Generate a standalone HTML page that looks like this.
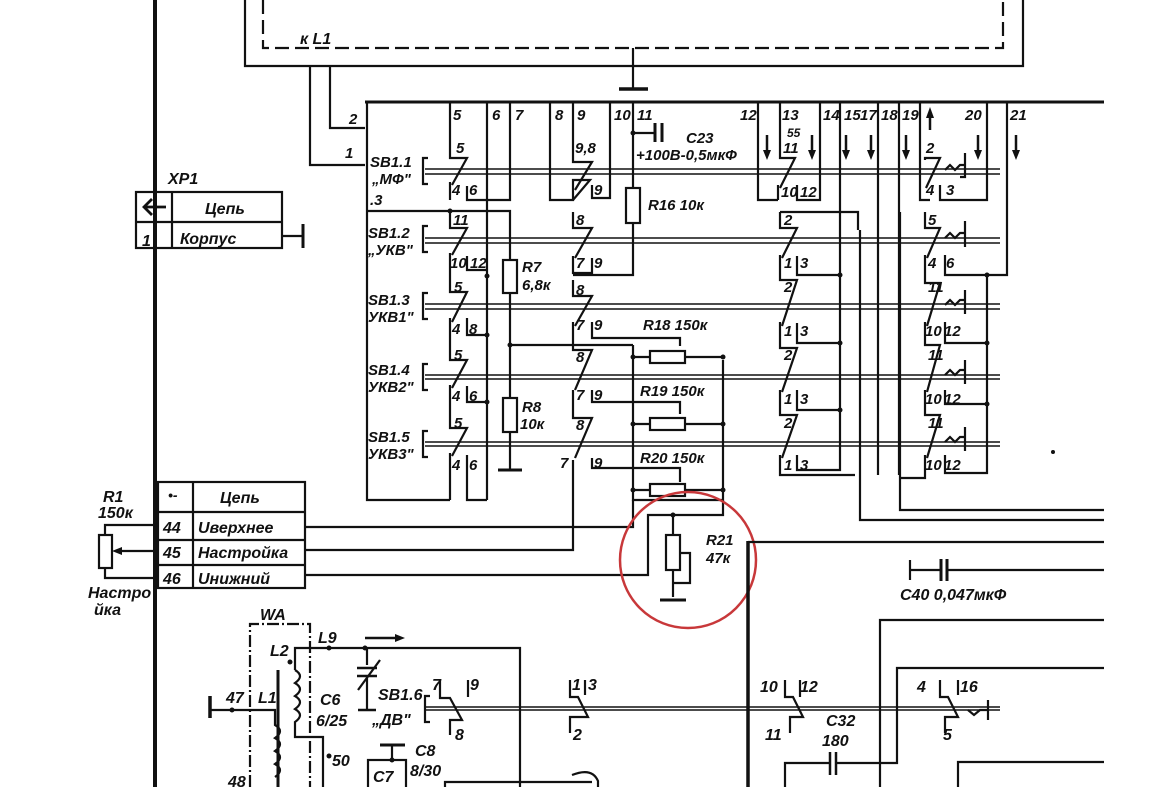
<!DOCTYPE html>
<html><head><meta charset="utf-8"><style>
html,body{margin:0;padding:0;background:#fff}
svg{display:block}
text{font-family:"Liberation Sans",sans-serif;font-style:italic;font-weight:bold;fill:#111}
</style></head><body>
<svg width="1162" height="787" viewBox="0 0 1162 787" xmlns="http://www.w3.org/2000/svg">
<g stroke="#111" stroke-width="2.2" fill="none">
<line x1="155" y1="0" x2="155" y2="787" stroke-width="4"/>
<polyline points="245,0 245,66 1023,66 1023,0"/>
<polyline points="263,0 263,48 1003,48 1003,0" stroke-dasharray="14,6"/>
<line x1="633" y1="48" x2="633" y2="89"/>
<line x1="619" y1="89" x2="648" y2="89" stroke-width="3.5"/>
<polyline points="310,66 310,165 365,165"/>
<polyline points="330,66 330,128 365,128"/>
<line x1="365" y1="102" x2="1104" y2="102" stroke-width="3"/>
<polyline points="367,102 367,500 450,500"/>
<polyline points="367,211 450,211"/>
<g stroke-width="1.5">
<line x1="425" y1="169" x2="1000" y2="169"/><line x1="425" y1="174" x2="1000" y2="174"/>
<line x1="425" y1="238" x2="1000" y2="238"/><line x1="425" y1="243" x2="1000" y2="243"/>
<line x1="425" y1="304" x2="1000" y2="304"/><line x1="425" y1="309" x2="1000" y2="309"/>
<line x1="425" y1="375" x2="1000" y2="375"/><line x1="425" y1="379" x2="1000" y2="379"/>
<line x1="425" y1="442" x2="1000" y2="442"/><line x1="425" y1="446" x2="1000" y2="446"/>
</g>
<path d="M428,158 h-5 v26 h5 M428,226 h-5 v26 h5 M428,293 h-5 v26 h5 M428,364 h-5 v26 h5 M428,431 h-5 v26 h5"/>
<polyline points="450,102 450,158 467,158 452,185"/>
<polyline points="450,182 450,200"/>
<polyline points="467,186 467,200 510,200 510,102"/>
<polyline points="450,211 450,228 467,228 452,255"/>
<polyline points="450,253 450,292 467,292 452,322"/>
<polyline points="467,256 467,270 487,270"/>
<polyline points="450,318 450,360 467,360 452,388"/>
<polyline points="467,318 467,335 487,335"/>
<polyline points="450,385 450,428 467,428 452,456"/>
<polyline points="467,386 467,402 487,402"/>
<polyline points="450,453 450,500"/>
<polyline points="467,455 467,500 487,500"/>
<line x1="487" y1="102" x2="487" y2="500"/>
<polyline points="450,211 510,211 510,470"/>
<rect x="503" y="260" width="14" height="33" fill="#fff"/>
<rect x="503" y="398" width="14" height="34" fill="#fff"/>
<line x1="498" y1="470" x2="522" y2="470" stroke-width="3"/>
<line x1="510" y1="345" x2="633" y2="345"/>
<polyline points="550,102 550,200 573,200 573,180 590,180 573,200"/>
<polyline points="573,102 573,162 592,162 575,190"/>
<polyline points="592,185 592,198 610,198 610,102"/>
<polyline points="573,212 573,228 592,228 575,258"/>
<polyline points="573,256 573,273 592,273 592,258"/>
<polyline points="573,280 573,296 592,296 575,326"/>
<polyline points="573,322 573,345 573,350 592,350 575,390"/>
<polyline points="592,322 592,338 633,338 680,338 680,346"/>
<polyline points="573,390 573,418 592,418 575,458"/>
<polyline points="592,390 592,402 680,402 680,414"/>
<polyline points="573,460 573,550 305,550"/>
<polyline points="592,458 592,468 680,468 680,482"/>
<polyline points="633,102 633,275 573,275"/>
<rect x="626" y="188" width="14" height="35" fill="#fff"/>
<line x1="633" y1="133" x2="655" y2="133"/>
<line x1="655" y1="123" x2="655" y2="142" stroke-width="3"/>
<line x1="662" y1="123" x2="662" y2="142" stroke-width="3"/>
<polyline points="633,345 633,500 723,500 723,360"/>
<rect x="650" y="351" width="35" height="12" fill="#fff"/>
<rect x="650" y="418" width="35" height="12" fill="#fff"/>
<rect x="650" y="484" width="35" height="12" fill="#fff"/>
<line x1="633" y1="357" x2="650" y2="357"/><line x1="685" y1="357" x2="723" y2="357"/>
<line x1="633" y1="424" x2="650" y2="424"/><line x1="685" y1="424" x2="723" y2="424"/>
<line x1="633" y1="490" x2="650" y2="490"/><line x1="685" y1="490" x2="723" y2="490"/>
<polyline points="723,500 723,515 648,515 648,575 305,575"/>
<polyline points="633,500 633,527 305,527"/>
<polyline points="673,515 673,535"/>
<rect x="666" y="535" width="14" height="35" fill="#fff"/>
<polyline points="673,570 673,597"/><polyline points="680,553 690,553 690,583 673,583"/>
<line x1="660" y1="600" x2="686" y2="600" stroke-width="3"/>
<polyline points="758,102 758,200 778,200"/>
<polyline points="780,102 780,158 795,158 780,188"/>
<polyline points="778,185 778,200"/>
<polyline points="797,185 797,200 820,200 820,102"/>
<polyline points="780,212 780,228 797,228 782,258"/>
<polyline points="780,255 780,280 797,280 782,326"/>
<polyline points="797,256 797,275 840,275"/>
<polyline points="780,322 780,348 797,348 782,392"/>
<polyline points="797,323 797,343 840,343"/>
<polyline points="780,390 780,415 797,415 782,458"/>
<polyline points="797,390 797,410 840,410"/>
<polyline points="780,455 780,475 855,475"/>
<polyline points="797,455 797,470 840,470 840,102"/>
<polyline points="780,212 858,212 858,230"/>
<line x1="878" y1="102" x2="878" y2="475"/>
<line x1="899" y1="102" x2="899" y2="475"/>
<polyline points="900,212 900,510 1104,510"/>
<polyline points="860,230 860,520 1104,520"/>
<polyline points="920,102 920,200 930,200"/>
<polyline points="925,160 925,158 940,158 926,188"/>
<polyline points="940,185 940,200 987,200 987,102"/>
<polyline points="925,212 925,228 940,228 927,258"/>
<polyline points="925,255 925,283 940,283 927,326"/>
<polyline points="945,255 945,275 1007,275 1007,102"/>
<polyline points="925,322 925,345 940,345 927,392"/>
<polyline points="945,322 945,343 987,343"/>
<polyline points="925,390 925,415 940,415 927,458"/>
<polyline points="945,390 945,404 987,404"/>
<polyline points="925,455 925,478 900,478"/>
<polyline points="945,455 945,473 987,473 987,275"/>
<path d="M945,170 l5,-5 l5,5 l5,-5 h5 v-12 M965,165 v12 h-5 M945,238 l5,-5 l5,5 l5,-5 h5 v-12 M965,233 v14 M945,305 l5,-5 l5,5 l5,-5 h5 v-10 M965,300 v14 M945,375 l5,-5 l5,5 l5,-5 h5 v-10 M965,370 v14 M945,442 l5,-5 l5,5 l5,-5 h5 v-10 M965,437 v14"/>
<g stroke-width="2.5">
<line x1="767" y1="135" x2="767" y2="155"/><line x1="812" y1="135" x2="812" y2="155"/>
<line x1="846" y1="135" x2="846" y2="155"/><line x1="871" y1="135" x2="871" y2="155"/>
<line x1="906" y1="135" x2="906" y2="155"/><line x1="978" y1="135" x2="978" y2="155"/>
<line x1="1016" y1="135" x2="1016" y2="155"/><line x1="930" y1="112" x2="930" y2="130"/>
</g>
</g>
<g fill="#111">
<polygon points="763,150 771,150 767,160"/><polygon points="808,150 816,150 812,160"/>
<polygon points="842,150 850,150 846,160"/><polygon points="867,150 875,150 871,160"/>
<polygon points="902,150 910,150 906,160"/><polygon points="974,150 982,150 978,160"/>
<polygon points="1012,150 1020,150 1016,160"/><polygon points="926,118 934,118 930,107"/>
<circle cx="633" cy="133" r="2.5"/><circle cx="510" cy="345" r="2.5"/><circle cx="487" cy="276" r="2.5"/>
<circle cx="487" cy="335" r="2.5"/><circle cx="487" cy="402" r="2.5"/><circle cx="450" cy="211" r="2.5"/>
<circle cx="633" cy="357" r="2.5"/><circle cx="723" cy="357" r="2.5"/><circle cx="633" cy="424" r="2.5"/>
<circle cx="723" cy="424" r="2.5"/><circle cx="633" cy="490" r="2.5"/><circle cx="723" cy="490" r="2.5"/>
<circle cx="673" cy="515" r="2.5"/><circle cx="840" cy="275" r="2.5"/><circle cx="840" cy="343" r="2.5"/>
<circle cx="840" cy="410" r="2.5"/><circle cx="987" cy="275" r="2.5"/><circle cx="987" cy="343" r="2.5"/>
<circle cx="987" cy="404" r="2.5"/><circle cx="1053" cy="452" r="2"/>
</g>
<g font-size="15">
<text x="349" y="124">2</text><text x="345" y="158">1</text><text x="300" y="44" font-size="16">к L1</text>
<text x="370" y="167">SB1.1</text><text x="372" y="184">„МФ"</text><text x="370" y="205">.3</text>
<text x="368" y="238">SB1.2</text><text x="368" y="255">„УКВ"</text>
<text x="368" y="305">SB1.3</text><text x="368" y="322">УКВ1"</text>
<text x="368" y="375">SB1.4</text><text x="368" y="392">УКВ2"</text>
<text x="368" y="442">SB1.5</text><text x="368" y="459">УКВ3"</text>
<text x="453" y="120">5</text><text x="492" y="120">6</text><text x="515" y="120">7</text>
<text x="555" y="120">8</text><text x="577" y="120">9</text><text x="614" y="120">10</text><text x="637" y="120">11</text>
<text x="740" y="120">12</text><text x="782" y="120">13</text><text x="823" y="120">14</text>
<text x="844" y="120">15</text><text x="860" y="120">17</text><text x="881" y="120">18</text><text x="902" y="120">19</text>
<text x="965" y="120">20</text><text x="1010" y="120">21</text>
<text x="787" y="137" font-size="12">55</text>
<text x="456" y="153">5</text><text x="452" y="195">4</text><text x="469" y="195">6</text>
<text x="575" y="153">9,8</text><text x="594" y="195">9</text>
<text x="453" y="225">11</text><text x="450" y="268">10</text><text x="470" y="268">12</text>
<text x="454" y="292">5</text><text x="452" y="334">4</text><text x="469" y="334">8</text>
<text x="454" y="360">5</text><text x="452" y="401">4</text><text x="469" y="401">6</text>
<text x="454" y="428">5</text><text x="452" y="470">4</text><text x="469" y="470">6</text>
<text x="576" y="225">8</text><text x="576" y="268">7</text><text x="594" y="268">9</text>
<text x="576" y="295">8</text><text x="576" y="330">7</text><text x="594" y="330">9</text>
<text x="576" y="362">8</text><text x="576" y="400">7</text><text x="594" y="400">9</text>
<text x="576" y="430">8</text><text x="560" y="468">7</text><text x="594" y="468">9</text>
<text x="783" y="153">11</text><text x="781" y="197">10</text><text x="800" y="197">12</text>
<text x="784" y="225">2</text><text x="784" y="268">1</text><text x="800" y="268">3</text>
<text x="784" y="292">2</text><text x="784" y="336">1</text><text x="800" y="336">3</text>
<text x="784" y="360">2</text><text x="784" y="404">1</text><text x="800" y="404">3</text>
<text x="784" y="428">2</text><text x="784" y="470">1</text><text x="800" y="470">3</text>
<text x="926" y="153">2</text><text x="926" y="195">4</text><text x="946" y="195">3</text>
<text x="928" y="225">5</text><text x="928" y="268">4</text><text x="946" y="268">6</text>
<text x="928" y="292">11</text><text x="925" y="336">10</text><text x="944" y="336">12</text>
<text x="928" y="360">11</text><text x="925" y="404">10</text><text x="944" y="404">12</text>
<text x="928" y="428">11</text><text x="925" y="470">10</text><text x="944" y="470">12</text>
<text x="686" y="143">C23</text><text x="636" y="160">+100В-0,5мкФ</text>
<text x="648" y="210">R16 10к</text>
<text x="522" y="272">R7</text><text x="522" y="290">6,8к</text>
<text x="522" y="412">R8</text><text x="520" y="429">10к</text>
<text x="643" y="330">R18 150к</text><text x="640" y="396">R19 150к</text><text x="640" y="463">R20 150к</text>
<text x="706" y="545">R21</text><text x="706" y="563">47к</text>
</g>
<circle cx="688" cy="560" r="68" fill="none" stroke="#c8383a" stroke-width="2.5"/>
<g stroke="#111" stroke-width="2.2" fill="none">
<rect x="136" y="192" width="146" height="56"/>
<line x1="136" y1="222" x2="282" y2="222"/><line x1="172" y1="192" x2="172" y2="248"/>
<polyline points="282,236 303,236"/><line x1="303" y1="224" x2="303" y2="248" stroke-width="3"/>
<rect x="158" y="482" width="147" height="106"/>
<line x1="158" y1="512" x2="305" y2="512"/><line x1="158" y1="540" x2="305" y2="540"/><line x1="158" y1="565" x2="305" y2="565"/>
<line x1="193" y1="482" x2="193" y2="588"/>
<rect x="99" y="535" width="13" height="33"/>
<polyline points="105,535 105,525 158,525"/><polyline points="105,568 105,578 158,578"/>
<line x1="118" y1="551" x2="158" y2="551"/>
<line x1="144" y1="207" x2="166" y2="207" stroke-width="2.8"/>
<polyline points="152,199 144,207 152,215" stroke-width="2.8"/>
</g>
<polygon points="112,551 122,547 122,555" fill="#111"/>
<g font-size="16">
<text x="168" y="184">XP1</text><text x="205" y="214">Цепь</text><text x="142" y="246">1</text><text x="180" y="244">Корпус</text>
<text x="103" y="502">R1</text><text x="98" y="518">150к</text>
<text x="88" y="598">Настро</text><text x="94" y="615">йка</text>
<text x="168" y="500" font-size="14" font-style="normal">•-</text>
<text x="220" y="503">Цепь</text>
<text x="163" y="533">44</text><text x="198" y="533">Uверхнее</text>
<text x="163" y="558">45</text><text x="198" y="558">Настройка</text>
<text x="163" y="584">46</text><text x="198" y="584">Uнижний</text>
</g>
<g stroke="#111" stroke-width="2.2" fill="none">
<line x1="748" y1="541" x2="748" y2="787" stroke-width="3.5"/>
<line x1="748" y1="542" x2="1104" y2="542"/>
<polyline points="910,560 910,580"/><line x1="910" y1="570" x2="940" y2="570"/>
<line x1="941" y1="559" x2="941" y2="581" stroke-width="3"/><line x1="947" y1="559" x2="947" y2="581" stroke-width="3"/>
<line x1="947" y1="570" x2="1104" y2="570"/>
<polyline points="1104,620 880,620 880,787"/>
<polyline points="1104,668 897,668 897,763 880,763"/>
<polyline points="1104,762 958,762 958,787"/>
<polyline points="785,787 785,763 830,763"/><line x1="830" y1="752" x2="830" y2="775" stroke-width="2.5"/><line x1="836" y1="752" x2="836" y2="775" stroke-width="2.5"/><line x1="836" y1="763" x2="880" y2="763"/>
<line x1="425" y1="707" x2="1000" y2="707" stroke-width="1.5"/><line x1="425" y1="710" x2="1000" y2="710" stroke-width="1.5"/>
<path d="M430,696 h-5 v26 h5"/>
<polyline points="440,680 440,698 450,698 462,720 450,720 450,735"/><polyline points="468,680 468,697"/>
<polyline points="570,680 570,697 578,697 588,717 570,717 570,733"/><polyline points="585,680 585,695"/>
<polyline points="785,680 785,697 793,697 803,717 790,717 790,733"/><polyline points="800,680 800,697"/>
<polyline points="940,680 940,697 948,697 958,717 945,717 945,733"/><polyline points="958,680 958,695"/>
<path d="M968,710 l6,5 l6,-5 h8 v-10 M988,710 v10"/>
<polyline points="250,787 250,624 310,624 310,787" stroke-dasharray="12,3,2,3"/>
<line x1="278" y1="670" x2="278" y2="787" stroke-width="3"/>
<polyline points="295,670 295,648 520,648 520,787"/>
<path d="M295,670 q10,6 0,13 q10,6 0,13 q10,6 0,13 q10,6 0,13 v15 h28 V787"/>
<path d="M265,710 h10 v15 q10,6 0,13 q10,6 0,13 q10,6 0,13 q10,6 0,13"/>
<line x1="210" y1="696" x2="210" y2="718" stroke-width="3.5"/><line x1="210" y1="710" x2="265" y2="710"/>
<polyline points="367,648 367,665"/><line x1="357" y1="668" x2="377" y2="668" stroke-width="2.5"/><line x1="357" y1="676" x2="377" y2="676" stroke-width="2.5"/>
<polyline points="367,676 367,710"/><line x1="358" y1="710" x2="376" y2="710" stroke-width="2.5"/><line x1="358" y1="690" x2="380" y2="660"/>
<line x1="365" y1="638" x2="395" y2="638" stroke-width="2.5"/>
<line x1="380" y1="745" x2="405" y2="745" stroke-width="3"/><line x1="392" y1="745" x2="392" y2="760"/>
<rect x="368" y="760" width="38" height="30"/>
<polyline points="445,787 445,782 592,782"/>
<path d="M572,775 q20,-8 26,6 V787"/>
</g>
<polygon points="395,634 405,638 395,642" fill="#111"/>
<g fill="#111"><circle cx="290" cy="662" r="2.5"/><circle cx="329" cy="648" r="2.5"/><circle cx="365" cy="648" r="2.5"/><circle cx="232" cy="710" r="2.5"/><circle cx="329" cy="756" r="2.5"/><circle cx="392" cy="760" r="2.5"/></g>
<g font-size="16">
<text x="260" y="620">WA</text><text x="270" y="656">L2</text><text x="318" y="643">L9</text>
<text x="226" y="703">47</text><text x="258" y="703">L1</text>
<text x="320" y="705">C6</text><text x="316" y="726">6/25</text><text x="332" y="766">50</text>
<text x="378" y="700">SB1.6</text><text x="372" y="725">„ДВ"</text>
<text x="432" y="690">7</text><text x="470" y="690">9</text><text x="455" y="740">8</text>
<text x="572" y="690">1</text><text x="588" y="690">3</text><text x="573" y="740">2</text>
<text x="760" y="692">10</text><text x="800" y="692">12</text><text x="765" y="740">11</text>
<text x="917" y="692">4</text><text x="960" y="692">16</text><text x="943" y="740">5</text>
<text x="826" y="726">C32</text><text x="822" y="746">180</text>
<text x="900" y="600">C40 0,047мкФ</text>
<text x="415" y="756">C8</text><text x="410" y="776">8/30</text><text x="373" y="782">C7</text>
<text x="228" y="787">48</text>
</g>
</svg>
</body></html>
